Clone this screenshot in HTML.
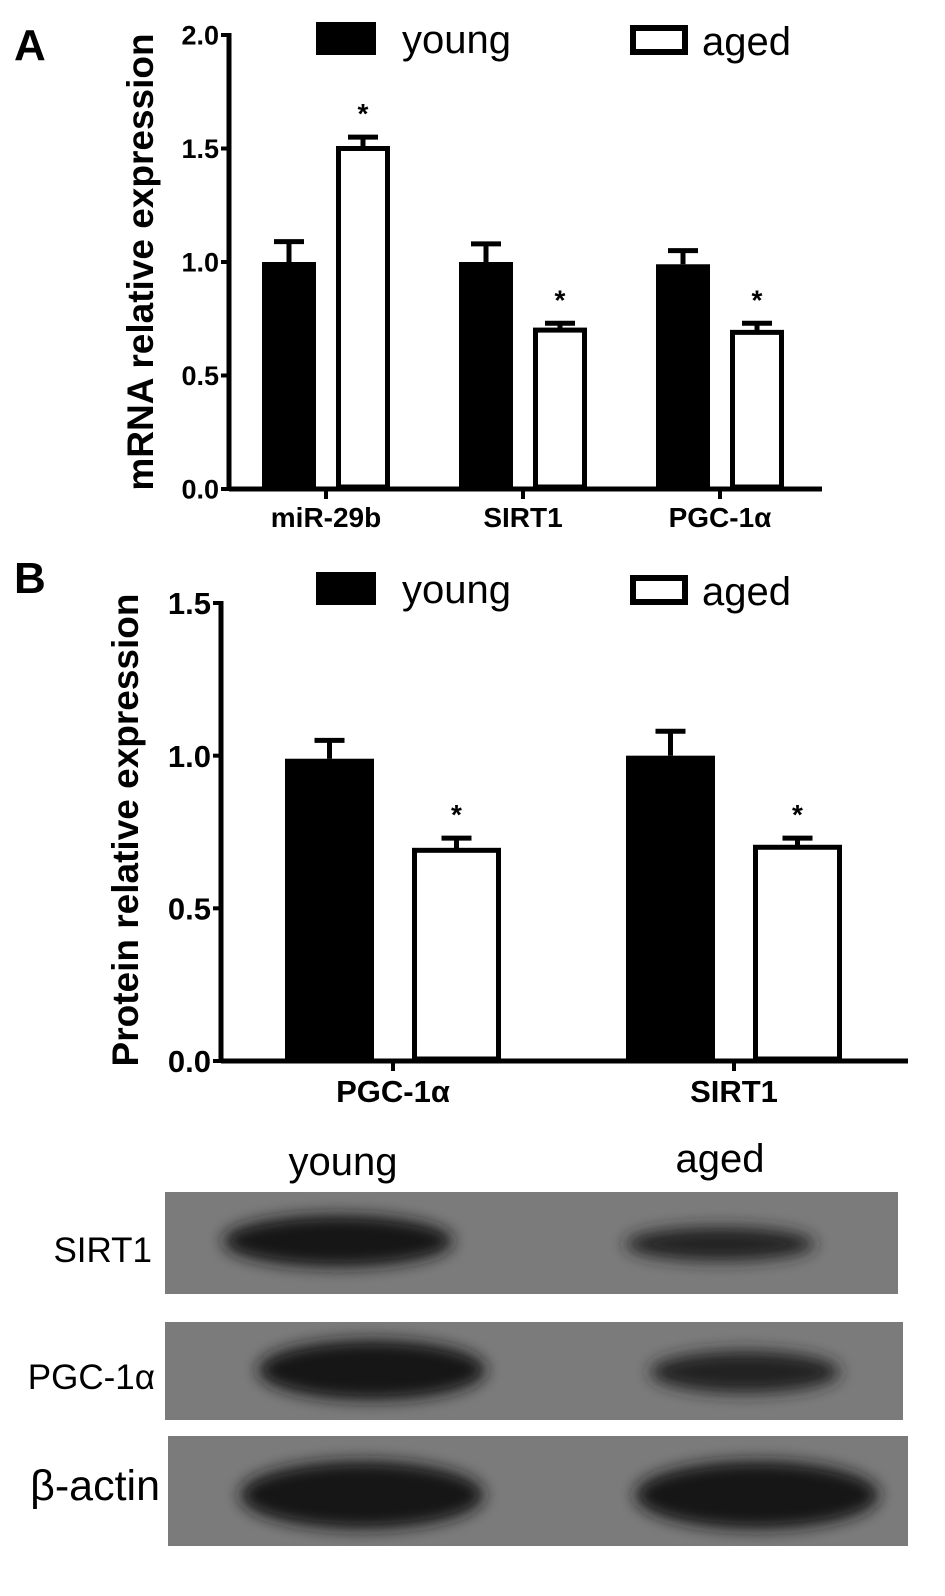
<!DOCTYPE html>
<html><head><meta charset="utf-8"><style>
html,body{margin:0;padding:0;background:#fff;}
svg{display:block;}
text{font-family:"Liberation Sans",sans-serif;}
</style></head><body>
<svg id="fig" width="945" height="1596" viewBox="0 0 945 1596">
<defs>
<filter id="blur" x="-30%" y="-80%" width="160%" height="260%"><feGaussianBlur stdDeviation="8"/></filter>
</defs>
<text x="14" y="60" font-size="44" font-weight="bold">A</text>
<text x="14" y="593" font-size="44" font-weight="bold">B</text>
<text transform="translate(153,262) rotate(-90)" text-anchor="middle" font-size="37" font-weight="bold">mRNA relative expression</text>
<text transform="translate(138,830) rotate(-90)" text-anchor="middle" font-size="37" font-weight="bold">Protein relative expression</text>
<g>
<rect x="316" y="22" width="60" height="33" fill="#000"/>
<text x="402" y="53" font-size="40">young</text>
<rect x="633" y="28" width="52" height="24" fill="#fff" stroke="#000" stroke-width="6"/>
<text x="702" y="55" font-size="40">aged</text>
</g>
<g>
<rect x="316" y="572" width="60" height="33" fill="#000"/>
<text x="402" y="603" font-size="40">young</text>
<rect x="633" y="578" width="52" height="24" fill="#fff" stroke="#000" stroke-width="6"/>
<text x="702" y="605" font-size="40">aged</text>
</g>
<g id="chartA"></g>
<g id="chartB"></g>
<g>
<text x="343" y="1175" font-size="40" text-anchor="middle">young</text>
<text x="720" y="1172" font-size="40" text-anchor="middle">aged</text>
<rect x="165" y="1192" width="733" height="102" fill="#7b7b7b"/>
<rect x="165" y="1322" width="738" height="98" fill="#7b7b7b"/>
<rect x="168" y="1436" width="740" height="110" fill="#7b7b7b"/>
<ellipse cx="338" cy="1241" rx="115" ry="26" fill="#151515" filter="url(#blur)"/>
<ellipse cx="720" cy="1244" rx="95" ry="17" fill="#222" filter="url(#blur)"/>
<ellipse cx="372" cy="1370" rx="114" ry="30" fill="#151515" filter="url(#blur)"/>
<ellipse cx="745" cy="1372" rx="95" ry="21" fill="#222" filter="url(#blur)"/>
<ellipse cx="362" cy="1495" rx="122" ry="34" fill="#141414" filter="url(#blur)"/>
<ellipse cx="757" cy="1495" rx="122" ry="34" fill="#141414" filter="url(#blur)"/>
<text x="152" y="1262" font-size="35" text-anchor="end">SIRT1</text>
<text x="155" y="1389" font-size="35" text-anchor="end">PGC-1α</text>
<text x="160" y="1500" font-size="43" text-anchor="end">β-actin</text>
</g>
</svg>
<script>
const catsA = ["miR-29b", "SIRT1", "PGC-1α"];
const youngA = [1.0, 1.0, 0.99];
const youngErrA = [0.09, 0.08, 0.06];
const agedA = [1.50, 0.70, 0.69];
const agedErrA = [0.05, 0.03, 0.04];
const ticksA = ["0.0", "0.5", "1.0", "1.5", "2.0"];
const catsB = ["PGC-1α", "SIRT1"];
const youngB = [0.99, 1.0];
const youngErrB = [0.06, 0.08];
const agedB = [0.69, 0.70];
const agedErrB = [0.04, 0.03];
const ticksB = ["0.0", "0.5", "1.0", "1.5"];

const NS = "http://www.w3.org/2000/svg";
function mk(parent, tag, attrs) {
  const e = document.createElementNS(NS, tag);
  for (const k in attrs) e.setAttribute(k, attrs[k]);
  parent.appendChild(e);
  return e;
}
function drawChart(g, o) {
  const y = v => o.y0 - (v / o.ymax) * (o.y0 - o.ytop);
  let ax = mk(g, "line", {x1: o.x0, y1: o.ytop - 2, x2: o.x0, y2: o.y0 + 2, stroke: "#000", "stroke-width": 5});
  
  
  let bx = mk(g, "line", {x1: o.x0, y1: o.y0, x2: o.x1, y2: o.y0, stroke: "#000", "stroke-width": 5});
  
  
  o.ticks.forEach(t => {
    const v = parseFloat(t);
    let tk = mk(g, "line", {x1: o.x0 - 8, y1: y(v), x2: o.x0, y2: y(v), stroke: "#000", "stroke-width": 4});
    
    
    let tl = mk(g, "text", {x: o.x0 - 10, y: y(v) + o.tfs * 0.36, "text-anchor": "end", "font-size": o.tfs, "font-weight": "bold"});
    tl.textContent = t;
    
    
  });
  o.cats.forEach((c, i) => {
    const cx = o.c0 + i * o.step;
    const yx = cx - o.gap / 2 - o.bw, axx = cx + o.gap / 2;
    let b1 = mk(g, "rect", {x: yx, y: y(o.young[i]), width: o.bw, height: o.y0 - y(o.young[i]), fill: "#000"});
    
    
    let e1 = mk(g, "path", {d: `M${yx + o.bw/2} ${y(o.young[i])} V${y(o.young[i] + o.yerr[i])} M${yx + o.bw/2 - 15} ${y(o.young[i] + o.yerr[i])} H${yx + o.bw/2 + 15}`, stroke: "#000", "stroke-width": 5, fill: "none"});
    
    
    let b2 = mk(g, "rect", {x: axx + 2.5, y: y(o.aged[i]), width: o.bw - 5, height: o.y0 - y(o.aged[i]) - 2, fill: "#fff", stroke: "#000", "stroke-width": 5});
    
    
    let e2 = mk(g, "path", {d: `M${axx + o.bw/2} ${y(o.aged[i])} V${y(o.aged[i] + o.aerr[i])} M${axx + o.bw/2 - 15} ${y(o.aged[i] + o.aerr[i])} H${axx + o.bw/2 + 15}`, stroke: "#000", "stroke-width": 5, fill: "none"});
    
    
    let st = mk(g, "text", {x: axx + o.bw/2, y: y(o.aged[i] + o.aerr[i]) - 14, "text-anchor": "middle", "font-size": 28, "font-weight": "bold"});
    st.textContent = "*";
    
    
    let ct = mk(g, "line", {x1: cx, y1: o.y0, x2: cx, y2: o.y0 + 10, stroke: "#000", "stroke-width": 4});
    
    
    let cl = mk(g, "text", {x: cx, y: o.y0 + o.lfs + 10, "text-anchor": "middle", "font-size": o.lfs, "font-weight": "bold"});
    cl.textContent = c;
    
    
  });
}
drawChart(document.getElementById("chartA"), {x0: 229, x1: 822, y0: 489, ytop: 35, ymax: 2.0, ticks: ticksA, cats: catsA, young: youngA, yerr: youngErrA, aged: agedA, aerr: agedErrA, c0: 326, step: 197, bw: 54, gap: 20, tfs: 27, lfs: 28});
drawChart(document.getElementById("chartB"), {x0: 221, x1: 908, y0: 1061, ytop: 603, ymax: 1.5, ticks: ticksB, cats: catsB, young: youngB, yerr: youngErrB, aged: agedB, aerr: agedErrB, c0: 393, step: 341, bw: 89, gap: 38, tfs: 31, lfs: 31});
</script>
</body></html>
